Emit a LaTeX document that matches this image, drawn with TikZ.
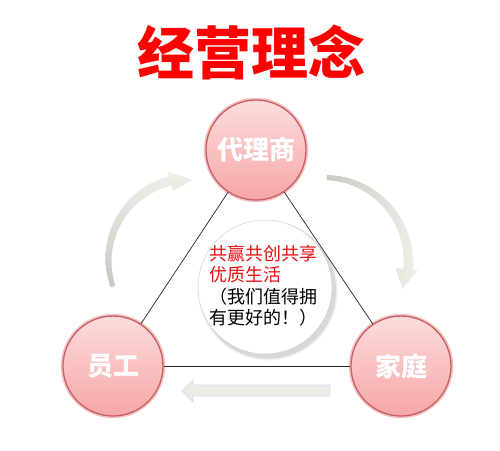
\documentclass[tikz,border=0pt]{standalone}
\usepackage{fontspec}
\newfontfamily\cjk{Noto Sans CJK SC}
\usetikzlibrary{calc}
\definecolor{titlered}{RGB}{255,0,0}
\definecolor{textred}{RGB}{232,16,16}
\definecolor{ringred}{RGB}{200,95,100}
\definecolor{pinktop}{RGB}{252,220,220}
\definecolor{pinkbot}{RGB}{247,166,166}
\definecolor{glow}{RGB}{244,196,196}
\definecolor{arrowdark}{RGB}{200,200,194}
\definecolor{arrowlight}{RGB}{240,240,233}
\definecolor{barfill}{RGB}{237,236,228}
\definecolor{barline}{RGB}{214,224,240}
\begin{document}
\begin{tikzpicture}[x=1pt,y=-1pt,
  ball/.style={circle, minimum size=100pt, inner sep=0pt,
    top color=pinktop, bottom color=pinkbot, draw=ringred, line width=1.3pt,
    preaction={draw=glow, line width=4.5pt},
    font={\cjk\bfseries\fontsize{26pt}{30pt}\selectfont}, text=white},
  ctext/.style={font={\cjk\fontsize{18pt}{21pt}\selectfont}, inner sep=0pt, anchor=base west},
  tri/.style={line width=0.7pt, black!85},
  curvearrow/.style={draw=none}
]
\useasboundingbox[fill=white] (0,0) rectangle (500,450);

% title
\node[font={\cjk\bfseries\fontsize{57pt}{60pt}\selectfont}, text=titlered, inner sep=0pt] (title) at (251.5,52.5) {经营理念};

% curved arrows
\shade[curvearrow, top color=arrowlight, bottom color=arrowdark]
  plot[domain=161:256, samples=30, variable=\t] ({190+(84+2.5*(\t-161)/95)*cos(\t)}, {260+(84+2.5*(\t-161)/95)*sin(\t)})
  -- ({190+91*cos(256)},{260+91*sin(256)})
  -- ({190+80*cos(272)},{260+80*sin(272)})
  -- ({190+71*cos(256)},{260+71*sin(256)})
  -- plot[domain=256:161, samples=30, variable=\t] ({190+(79-2.5*(\t-161)/95)*cos(\t)}, {260+(79-2.5*(\t-161)/95)*sin(\t)})
  -- cycle;
\shade[curvearrow, left color=arrowdark, right color=arrowlight]
  plot[domain=272:365, samples=30, variable=\t] ({324+(87+2.5*(\t-272)/93)*cos(\t)}, {262+(87+2.5*(\t-272)/93)*sin(\t)})
  -- ({324+94*cos(365)},{262+94*sin(365)})
  -- ({324+83*cos(379)},{262+83*sin(379)})
  -- ({324+72*cos(365)},{262+72*sin(365)})
  -- plot[domain=365:272, samples=30, variable=\t] ({324+(82-2.5*(\t-272)/93)*cos(\t)}, {262+(82-2.5*(\t-272)/93)*sin(\t)})
  -- cycle;

% bottom block arrow
\filldraw[fill=barfill, draw=barline, line width=0.8pt]
  (330,385) -- (193,385) -- (193,380) -- (182,391) -- (193,402) -- (193,396) -- (330,396) -- cycle;

% centre circle shadow
\foreach \r/\o in {70/0.035, 69/0.05, 68/0.07}
  \fill[black, opacity=\o] (268,290.5) circle (\r);
\node[circle, minimum size=134pt, inner sep=0pt, fill=white, draw=black!18, line width=0.5pt] (mid) at (265,287) {};

% centre text
\node[ctext, text=textred] (c1) at (209,260) {共赢共创共享};
\node[ctext, text=textred] (c2) at (209,281.5) {优质生活};
\node[ctext, text=black] (c3) at (209,303.5) {（我们值得拥};
\node[ctext, text=black] (c4) at (209,324.5) {有更好的！）};

% three balls
\node[ball] (top) at (256,150) {代理商};
\node[ball] (left) at (113,366) {员工};
\node[ball] (right) at (401,366) {家庭};

% triangle
\draw[tri] (top) -- (left);
\draw[tri] (left) -- (right);
\draw[tri] (right) -- (top);
\end{tikzpicture}
\end{document}
